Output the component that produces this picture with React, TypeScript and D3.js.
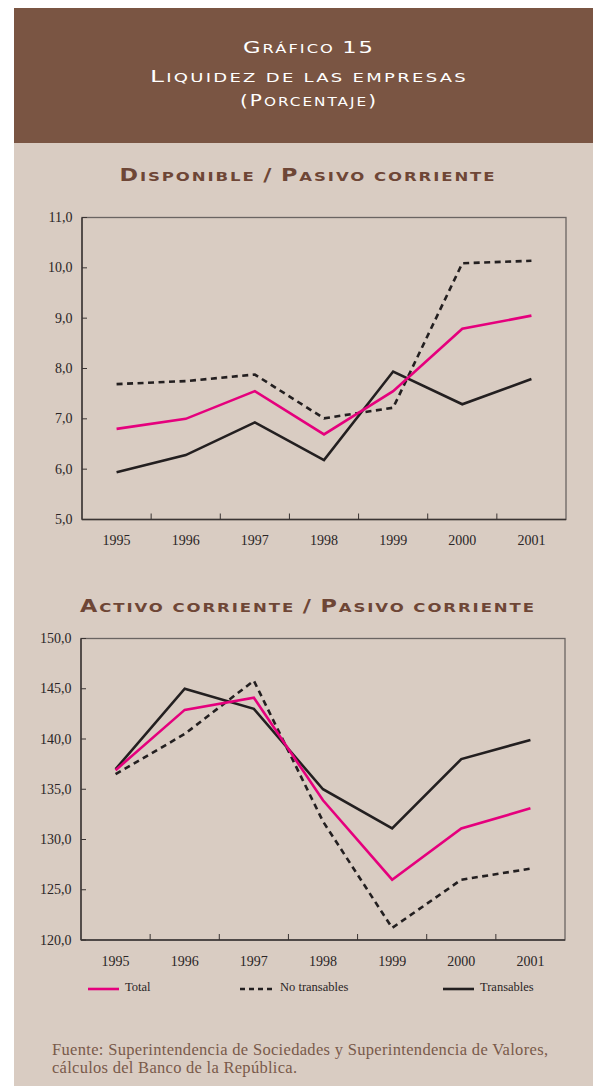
import React from "react";
import * as d3 from "d3";

const years = ["1995", "1996", "1997", "1998", "1999", "2000", "2001"];

const disTotal = [6.8, 7.0, 7.55, 6.69, 7.55, 8.79, 9.05];
const disNoTrans = [7.69, 7.75, 7.88, 7.01, 7.22, 10.09, 10.14];
const disTrans = [5.94, 6.28, 6.93, 6.18, 7.94, 7.29, 7.79];
const disTicks = [5, 6, 7, 8, 9, 10, 11];

const actTotal = [136.9, 142.9, 144.1, 133.9, 126.0, 131.1, 133.1];
const actNoTrans = [136.5, 140.5, 145.8, 131.8, 121.2, 126.0, 127.1];
const actTrans = [137.0, 145.0, 143.0, 135.0, 131.1, 138.0, 139.9];
const actTicks = [120, 125, 130, 135, 140, 145, 150];

const seriesNames = ["Total", "No transables", "Transables"];

const W = 593;
const H = 1086;
const BROWN = "#7a5543";
const BEIGE = "#d9ccc2";
const PINK = "#e5007d";
const DARK = "#231f20";
const TITLE_BROWN = "#6e4636";

const fmt = (v: number) => d3.format(".1f")(v).replace(".", ",");

function SmallCaps({ text, x, y, size, ratio = 0.74, fill, weight = "normal", spacing = 1, textLength }: any) {
  const parts: { t: string; big: boolean }[] = [];
  for (const ch of text) {
    const big = ch !== ch.toLowerCase() || /[0-9()\/]/.test(ch);
    const last = parts[parts.length - 1];
    if (last && last.big === big) last.t += ch;
    else parts.push({ t: ch, big });
  }
  return (
    <text
      x={x}
      y={y}
      textAnchor="middle"
      fill={fill}
      fontFamily="'DejaVu Sans', sans-serif"
      fontWeight={weight}
      letterSpacing={spacing}
      textLength={textLength}
      lengthAdjust="spacingAndGlyphs"
    >
      {parts.map((p, i) => (
        <tspan key={i} fontSize={p.big ? size : size * ratio}>
          {p.t.toUpperCase()}
        </tspan>
      ))}
    </text>
  );
}

function Chart({ top, bottom, left, right, domain, ticks, total, noTrans, trans }: any) {
  const x = d3.scaleBand<string>().domain(years).range([left, right]).padding(0);
  const y = d3.scaleLinear().domain(domain).range([bottom, top]);
  const cx = (d: string) => (x(d) as number) + x.bandwidth() / 2;
  const line = d3
    .line<number>()
    .x((_, i) => cx(years[i]))
    .y((v) => y(v));
  const bounds = years.slice(1).map((d) => x(d) as number);
  return (
    <g>
      <rect x={left} y={top} width={right - left} height={bottom - top} fill="none" stroke="#6a6462" strokeWidth={1.3} />
      <line x1={left} x2={left} y1={top} y2={bottom} stroke="#3a3433" strokeWidth={1.4} />
      <line x1={left} x2={right} y1={bottom} y2={bottom} stroke="#3a3433" strokeWidth={1.4} />
      {ticks.map((t: number) => (
        <g key={t}>
          <line x1={left} x2={left + 5} y1={y(t)} y2={y(t)} stroke="#3a3433" strokeWidth={1} />
          <text
            x={left - 9.5}
            y={y(t) + 4.5}
            textAnchor="end"
            fontFamily="'Liberation Serif', serif"
            fontSize={14}
            fill="#2a2526"
          >
            {fmt(t)}
          </text>
        </g>
      ))}
      {bounds.map((b, i) => (
        <line key={i} x1={b} x2={b} y1={bottom} y2={bottom - 6} stroke="#3a3433" strokeWidth={1} />
      ))}
      {years.map((d) => (
        <text
          key={d}
          x={cx(d)}
          y={bottom + 25.5}
          textAnchor="middle"
          fontFamily="'Liberation Serif', serif"
          fontSize={14}
          fill="#2a2526"
        >
          {d}
        </text>
      ))}
      <path d={line(noTrans) as string} fill="none" stroke={DARK} strokeWidth={2.6} strokeDasharray="6,4.5" />
      <path d={line(trans) as string} fill="none" stroke={DARK} strokeWidth={2.6} strokeLinejoin="miter" />
      <path d={line(total) as string} fill="none" stroke={PINK} strokeWidth={2.6} />
    </g>
  );
}

export default function App() {
  const legendY = 989;
  const legend = [
    { name: seriesNames[0], x: 88, len: 31, color: PINK, dash: undefined },
    { name: seriesNames[1], x: 240, len: 34, color: DARK, dash: "5,4" },
    { name: seriesNames[2], x: 443, len: 31, color: DARK, dash: undefined },
  ];
  return (
    <svg
      width={W}
      height={H}
      style={{ position: "absolute", left: 0, top: 0, display: "block" }}
    >
      <rect x={0} y={0} width={W} height={H} fill="#ffffff" />
      <rect x={14} y={8} width={W - 14} height={H - 8} fill={BEIGE} />
      <rect x={14} y={8} width={W - 14} height={135} fill={BROWN} />
      <SmallCaps text="Gráfico 15" x={309} y={52.5} size={16.5} ratio={0.72} fill="#ffffff" spacing={1.5} textLength={132} />
      <SmallCaps text="Liquidez de las empresas" x={309} y={81.5} size={16.5} ratio={0.72} fill="#ffffff" spacing={1.5} textLength={318} />
      <SmallCaps text="(Porcentaje)" x={309} y={106} size={15} ratio={0.76} fill="#ffffff" spacing={1.5} textLength={138} />

      <SmallCaps text="Disponible / Pasivo corriente" x={308} y={181} size={17.5} ratio={0.74} fill={TITLE_BROWN} weight="bold" spacing={1.5} textLength={377} />
      <Chart top={217.5} bottom={519.5} left={82} right={566} domain={[5, 11]} ticks={disTicks} total={disTotal} noTrans={disNoTrans} trans={disTrans} />

      <SmallCaps text="Activo corriente / Pasivo corriente" x={308} y={612} size={17.5} ratio={0.74} fill={TITLE_BROWN} weight="bold" spacing={1.5} textLength={456} />
      <Chart top={638.5} bottom={940} left={81} right={565} domain={[120, 150]} ticks={actTicks} total={actTotal} noTrans={actNoTrans} trans={actTrans} />

      {legend.map((l) => (
        <g key={l.name}>
          <line x1={l.x} x2={l.x + l.len} y1={legendY} y2={legendY} stroke={l.color} strokeWidth={2.6} strokeDasharray={l.dash} />
          <text x={l.x + l.len + 6} y={legendY + 2} fontFamily="'Liberation Serif', serif" fontSize={12.5} fill="#2a2526">
            {l.name}
          </text>
        </g>
      ))}

      <text x={52} y={1055} fontFamily="'Liberation Serif', serif" fontSize={16.5} fill="#7a5a4a" textLength={496} lengthAdjust="spacing">
        Fuente: Superintendencia de Sociedades y Superintendencia de Valores,
      </text>
      <text x={52} y={1073} fontFamily="'Liberation Serif', serif" fontSize={16.5} fill="#7a5a4a" textLength={245} lengthAdjust="spacing">
        cálculos del Banco de la República.
      </text>
    </svg>
  );
}
